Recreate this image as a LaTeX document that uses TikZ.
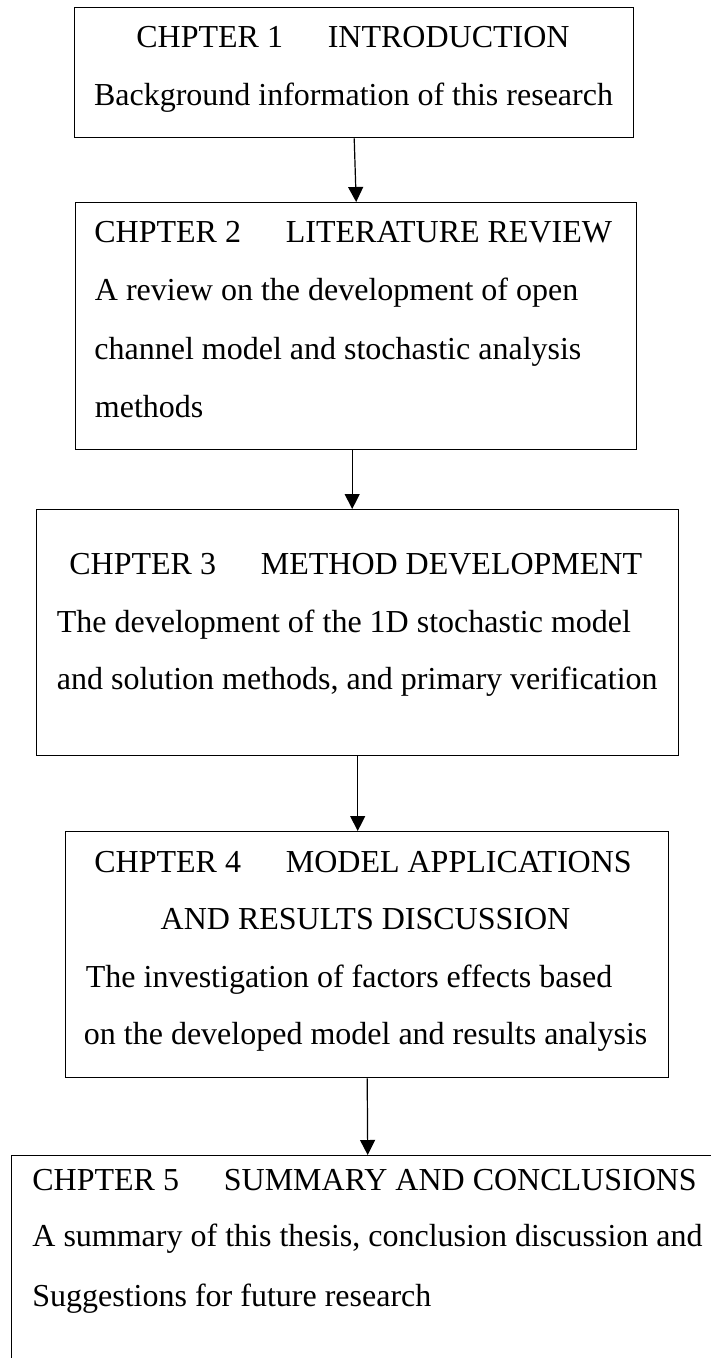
\documentclass[tikz,border=0pt]{standalone}
\usepackage{fontspec}
\setmainfont{Liberation Serif}
\usepackage{tikz}
\usetikzlibrary{arrows.meta}
\newcommand{\chgap}{\hspace{1.4em}}

\begin{document}
\begin{tikzpicture}[
  x=0.5pt, y=-0.5pt,
  every node/.style={font=\fontsize{16}{19}\selectfont, inner sep=0pt},
  chapbox/.style={draw, line width=0.7pt, anchor=north west},
  line/.style={anchor=base west},
  midline/.style={anchor=base},
  arr/.style={line width=0.6pt, -{Triangle[width=7.5pt,length=7.5pt]}}
]
\useasboundingbox (0,0) rectangle (711,1358);
\clip (0,0) rectangle (711,1358);

\node[chapbox, minimum width=279.5pt, minimum height=65pt] (b1) at (74,7) {};
\node[midline] (t1) at (353,48) {CHPTER 1\chgap INTRODUCTION};
\node[midline] (d1) at (353.5,106) {Background information of this research};

\node[chapbox, minimum width=280.5pt, minimum height=123.5pt] (b2) at (75,202) {};
\node[line] (t2) at (94,243) {CHPTER 2\chgap LITERATURE REVIEW};
\node[line] (d2a) at (94.5,300) {A review on the development of open};
\node[line] (d2b) at (94,359) {channel model and stochastic analysis};
\node[line] (d2c) at (94.5,417) {methods};

\node[chapbox, minimum width=321pt, minimum height=123pt] (b3) at (36,509) {};
\node[line] (t3) at (69,574) {CHPTER 3\chgap METHOD DEVELOPMENT};
\node[line] (d3a) at (56.5,632) {The development of the 1D stochastic model};
\node[line] (d3b) at (56.5,689) {and solution methods, and primary verification};

\node[chapbox, minimum width=301.5pt, minimum height=123pt] (b4) at (65,831) {};
\node[line] (t4a) at (94,872) {CHPTER 4\chgap MODEL APPLICATIONS};
\node[midline] (t4b) at (365.5,929) {AND RESULTS DISCUSSION};
\node[line] (d4a) at (85.5,987) {The investigation of factors effects based};
\node[line] (d4b) at (83.5,1044) {on the developed model and results analysis};

\node[chapbox, minimum width=356pt, minimum height=115pt] (b5) at (11,1155) {};
\node[line] (t5) at (32,1190) {CHPTER 5\chgap SUMMARY AND CONCLUSIONS};
\node[line] (d5a) at (32,1246) {A summary of this thesis, conclusion discussion and};
\node[line] (d5b) at (32,1306) {Suggestions for future research};

\draw[arr] (b1.south) -- (b2.north);
\draw[arr] ([xshift=-2pt]b2.south) -- ([xshift=-2.75pt]b3.north);
\draw[arr] (b3.south) -- ([xshift=-4.75pt]b4.north);
\draw[arr] (b4.south) -- (b5.north);
\end{tikzpicture}
\end{document}
